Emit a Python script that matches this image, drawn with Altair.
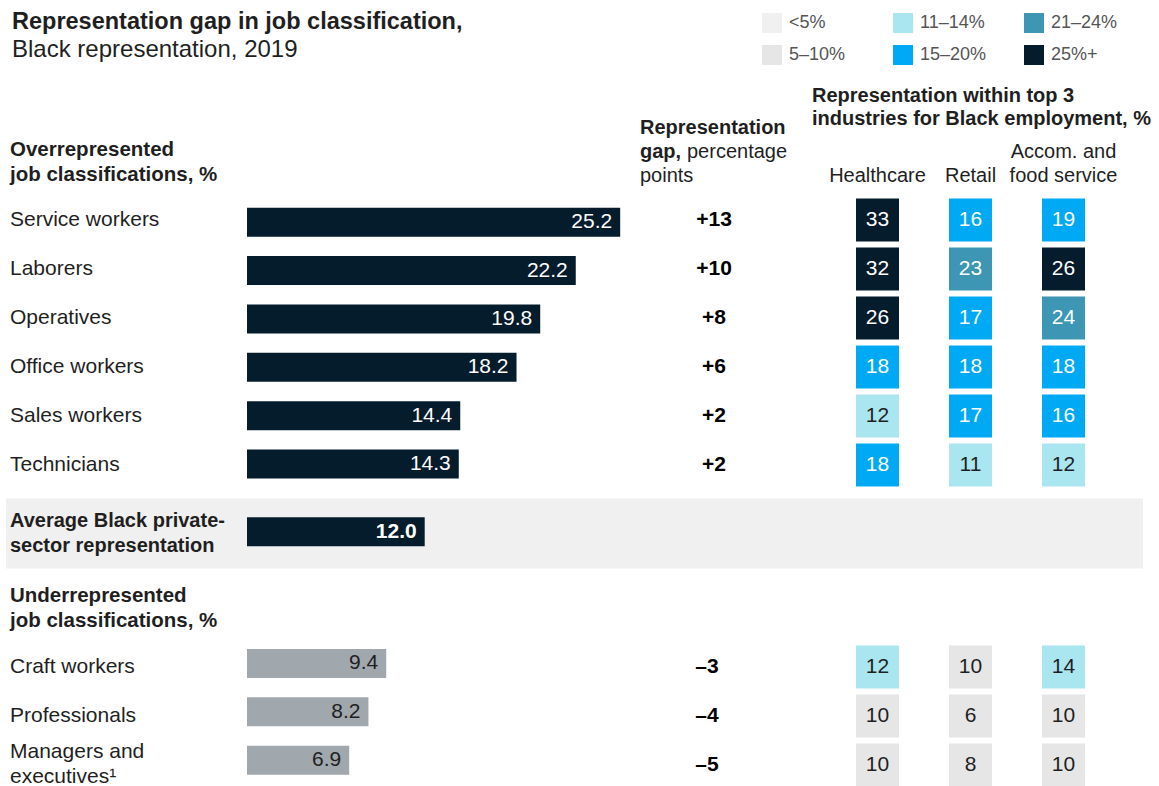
import altair as alt
import pandas as pd

# ---------------- data ----------------
title_line1 = "Representation gap in job classification,"
title_line2 = "Black representation, 2019"

over_labels = ["Service workers", "Laborers", "Operatives", "Office workers",
               "Sales workers", "Technicians"]
over_values = [25.2, 22.2, 19.8, 18.2, 14.4, 14.3]
over_gaps = ["+13", "+10", "+8", "+6", "+2", "+2"]

under_labels = ["Craft workers", "Professionals", "Managers and\nexecutives\u00b9"]
under_values = [9.4, 8.2, 6.9]
under_gaps = ["\u20133", "\u20134", "\u20135"]

avg_label = "Average Black private-\nsector representation"
avg_value = 12.0

industries = ["Healthcare", "Retail", "Accom. and food service"]
healthcare = [33, 32, 26, 18, 12, 18, 12, 10, 10]
retail = [16, 23, 17, 18, 17, 11, 10, 6, 8]
accom = [19, 26, 24, 18, 16, 12, 14, 10, 10]

bin_labels = ["<5%", "5\u201310%", "11\u201314%", "15\u201320%", "21\u201324%", "25%+"]
bin_colors = ["#f0f0f0", "#e6e6e6", "#aae6f0", "#00a9f4", "#3c96b4", "#051c2c"]
bin_upper = [4, 10, 14, 20, 24, 1000]

# ---------------- layout ----------------
FONT = "Liberation Sans"
TXT = "#1f1f1f"
DARK = "#051c2c"
GREY_BAR = "#a0a7ad"
BAND = "#f0f0f0"
H = 786
ROW = 49.0
FIRST = 220.0
AVG_SLOT = 6.4
UNDER_START = 9.12

yscale = alt.Scale(domain=[-FIRST / ROW, (H - FIRST) / ROW], reverse=True,
                   nice=False, zero=False)

n_over = len(over_labels)
n_under = len(under_labels)

rows = pd.DataFrame({
    "label": over_labels + under_labels,
    "value": over_values + under_values,
    "gap": over_gaps + under_gaps,
    "slot": [float(i) for i in range(n_over)] + [UNDER_START + j for j in range(n_under)],
    "bar": [DARK] * n_over + [GREY_BAR] * n_under,
    "tcol": ["#ffffff"] * n_over + [TXT] * n_under,
    "multi": [("\n" in s) for s in over_labels + under_labels],
    "neg": [False] * n_over + [True] * n_under,
})

avg_df = pd.DataFrame({"label": [avg_label], "value": [avg_value], "slot": [AVG_SLOT],
                       "b0": [AVG_SLOT - 35 / ROW], "b1": [AVG_SLOT + 35 / ROW]})


def to_bin(v):
    for lab, up in zip(bin_labels, bin_upper):
        if v <= up:
            return lab
    return bin_labels[-1]


cells = []
for ind, vals in zip(industries, [healthcare, retail, accom]):
    for s, v in zip(rows["slot"], vals):
        b = to_bin(v)
        cells.append({"industry": ind, "value": v, "bin": b,
                      "c0": s - 21.5 / ROW, "c1": s + 21.5 / ROW,
                      "slot": s,
                      "tcol": "#ffffff" if b in bin_labels[3:] else TXT})
cells = pd.DataFrame(cells)

one = pd.DataFrame({"k": [0]})


def txt(text, x, y, size=21, bold=False, color=TXT, align="left"):
    return alt.Chart(one).mark_text(
        text=text, align=align, baseline="middle", font=FONT, fontSize=size,
        fontWeight="bold" if bold else "normal", color=color
    ).encode(x=alt.value(x), y=alt.value(y))


Y = alt.Y("slot:Q", scale=yscale, axis=None)

# ---------------- panel L: labels (+ full-width band) ----------------
WL, WB, WG, WH = 247, 388, 170, 354

band = alt.Chart(avg_df).mark_rect(color=BAND).encode(
    x=alt.value(6), x2=alt.value(1143),
    y=alt.Y("b0:Q", scale=yscale, axis=None), y2="b1:Q")

label_style = dict(align="left", baseline="middle", font=FONT, fontSize=21, color=TXT,
                   lineBreak="\n", lineHeight=25)

row_labels_1 = alt.Chart(rows).transform_filter("!datum.multi").mark_text(
    **label_style).encode(x=alt.value(10), y=Y, text="label:N")
row_labels_2 = alt.Chart(rows).transform_filter("datum.multi").mark_text(
    dy=-12.5, **label_style).encode(x=alt.value(10), y=Y, text="label:N")

avg_text = alt.Chart(avg_df).mark_text(
    align="left", baseline="middle", font=FONT, fontSize=20, fontWeight="bold",
    color=TXT, lineBreak="\n", lineHeight=25, dy=-12.5
).encode(x=alt.value(10), y=Y, text="label:N")

panel_L = alt.layer(
    band,
    txt(title_line1, 12, 22, size=23.5, bold=True),
    txt(title_line2, 12, 50, size=24),
    txt("Overrepresented", 10, 150, size=20.5, bold=True),
    txt("job classifications, %", 10, 175, size=20.5, bold=True),
    txt("Underrepresented", 10, 596, size=20.5, bold=True),
    txt("job classifications, %", 10, 621, size=20.5, bold=True),
    row_labels_1,
    row_labels_2,
    avg_text,
).properties(width=WL, height=H)

# ---------------- panel B: bars ----------------
xbar = alt.Scale(domain=[0, 26.2], nice=False, zero=True)
X = alt.X("value:Q", scale=xbar, axis=None)

bars = alt.Chart(rows).mark_bar(orient="horizontal", size=29).encode(
    x=X, y=Y, color=alt.Color("bar:N", scale=None))

bar_vals = alt.Chart(rows).mark_text(
    align="right", baseline="middle", dx=-8, font=FONT, fontSize=21
).encode(x=X, y=Y, text=alt.Text("value:Q", format=".1f"),
         color=alt.Color("tcol:N", scale=None))

avg_bar = alt.Chart(avg_df).mark_bar(orient="horizontal", size=29, color=DARK).encode(
    x=X, y=Y)

avg_val = alt.Chart(avg_df).mark_text(
    align="right", baseline="middle", dx=-8, font=FONT, fontSize=21,
    fontWeight="bold", color="#ffffff"
).encode(x=X, y=Y, text=alt.Text("value:Q", format=".1f"))

panel_B = alt.layer(bars, bar_vals, avg_bar, avg_val).properties(width=WB, height=H)

# ---------------- panel G: gap ----------------
gap_style = dict(align="center", baseline="middle", font=FONT, fontSize=21,
                 fontWeight="bold", color="#000000")
gap_pos = alt.Chart(rows).transform_filter("!datum.neg").mark_text(**gap_style).encode(
    x=alt.value(79), y=Y, text="gap:N")
gap_neg = alt.Chart(rows).transform_filter("datum.neg").mark_text(**gap_style).encode(
    x=alt.value(72), y=Y, text="gap:N")

panel_G = alt.layer(
    txt("Representation", 5, 128, size=20, bold=True),
    txt("gap,", 5, 152, size=20, bold=True),
    txt("percentage", 52, 152, size=20),
    txt("points", 5, 176, size=20),
    gap_pos, gap_neg,
).properties(width=WG, height=H)

# ---------------- panel H: heatmap ----------------
xcell = alt.Scale(domain=industries, range=[26, 305], paddingInner=0.5376,
                  paddingOuter=0.2688)
XC = alt.X("industry:N", scale=xcell, axis=None)

legend = alt.Legend(
    title=None, orient="none", legendX=762, legendY=13, columns=3,
    symbolType="square", symbolSize=400, symbolStrokeWidth=0, symbolOpacity=1,
    labelFont=FONT, labelFontSize=18, labelColor="#555555", labelOffset=7,
    rowPadding=12, columnPadding=37, gridAlign="all", padding=0, labelLimit=200)

cell_rects = alt.Chart(cells).mark_rect().encode(
    x=XC,
    y=alt.Y("c0:Q", scale=yscale, axis=None), y2="c1:Q",
    color=alt.Color("bin:N", scale=alt.Scale(domain=bin_labels, range=bin_colors),
                    legend=legend))

cell_text = alt.Chart(cells).mark_text(
    align="center", baseline="middle", font=FONT, fontSize=21
).encode(x=XC, y=Y, text="value:Q", color=alt.Color("tcol:N", scale=None))

col_head = pd.DataFrame({"industry": industries,
                         "l1": ["", "", "Accom. and"],
                         "l2": ["Healthcare", "Retail", "food service"]})

head_style = dict(align="center", baseline="middle", font=FONT, fontSize=20, color=TXT)
head1 = alt.Chart(col_head).mark_text(**head_style).encode(
    x=XC, y=alt.value(152), text="l1:N")
head2 = alt.Chart(col_head).mark_text(**head_style).encode(
    x=XC, y=alt.value(176), text="l2:N")

panel_H = alt.layer(
    txt("Representation within top 3", 7, 96, size=20, bold=True),
    txt("industries for Black employment, %", 7, 119, size=20, bold=True),
    head1, head2, cell_rects, cell_text,
).properties(width=WH, height=H)

chart = alt.hconcat(panel_L, panel_B, panel_G, panel_H, spacing=0, bounds="flush").properties(
    padding=0, background="#ffffff"
).configure_view(stroke=None)

chart.save("out.html", embed_options={"renderer": "svg", "actions": False})
